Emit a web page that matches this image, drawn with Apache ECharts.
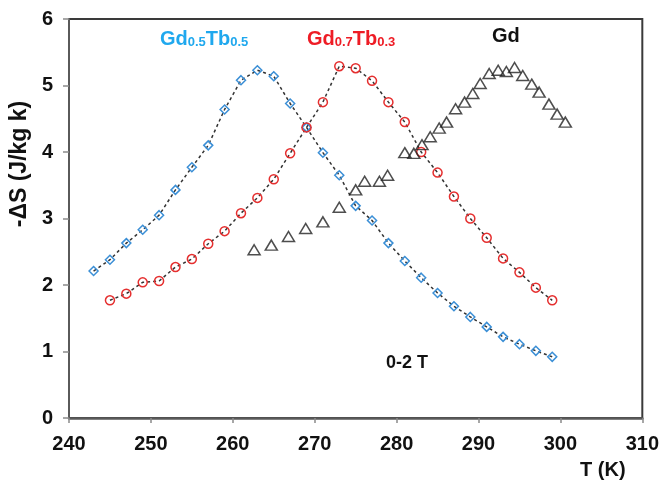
<!DOCTYPE html>
<html>
<head>
<meta charset="utf-8">
<script src="https://cdn.jsdelivr.net/npm/echarts@6/dist/echarts.min.js"></script>
<style>html,body{margin:0;padding:0;background:#fff}#c{width:662px;height:481px}</style>
</head>
<body>
<div id="c"></div>
<script>
// Gd0.5Tb0.5
const tGdTb55 = [243,245,247,249,251,253,255,257,259,261,263,265,267,269,271,273,275,277,279,281,283,285,287,289,291,293,295,297,299];
const sGdTb55 = [2.21,2.38,2.63,2.83,3.05,3.43,3.77,4.10,4.64,5.08,5.23,5.14,4.73,4.37,3.99,3.65,3.19,2.97,2.63,2.36,2.11,1.88,1.68,1.52,1.37,1.22,1.11,1.01,0.92];
// Gd0.7Tb0.3
const tGdTb73 = [245,247,249,251,253,255,257,259,261,263,265,267,269,271,273,275,277,279,281,283,285,287,289,291,293,295,297,299];
const sGdTb73 = [1.77,1.87,2.04,2.06,2.27,2.39,2.62,2.81,3.08,3.31,3.59,3.98,4.37,4.75,5.29,5.26,5.07,4.75,4.45,4.00,3.69,3.33,3.00,2.71,2.40,2.19,1.96,1.77];
// Gd
const tGd = [262.6,264.7,266.8,268.9,271.0,273.0,275.0,276.1,277.9,278.9,281.0,282.1,283.1,284.1,285.2,286.1,287.2,288.3,289.3,290.2,291.3,292.4,293.4,294.4,295.4,296.5,297.4,298.6,299.6,300.6];
const sGd = [2.53,2.60,2.73,2.85,2.95,3.17,3.43,3.56,3.56,3.65,3.99,3.98,4.11,4.23,4.36,4.45,4.65,4.75,4.88,5.03,5.18,5.23,5.21,5.27,5.15,5.02,4.90,4.72,4.57,4.45];

const xTicks = [240,250,260,270,280,290,300,310];
const yTicks = [0,1,2,3,4,5,6];

const zip = (a, b) => a.map((v, i) => [v, b[i]]);

const chart = echarts.init(document.getElementById('c'));
const FONT = 'Liberation Sans, Arial, sans-serif';
chart.setOption({
  animation: false,
  backgroundColor: '#fff',
  grid: { left: 69, right: 19, top: 19, bottom: 63, show: true, borderColor: '#3a3a3a', borderWidth: 2, backgroundColor: 'transparent' },
  xAxis: {
    type: 'value', min: xTicks[0], max: xTicks[xTicks.length-1], interval: 10,
    axisLine: { show: true, lineStyle: { color: '#5a5a5a', width: 2.5 } },
    axisTick: { show: true, length: 5, lineStyle: { color: '#8a8a8a', width: 1.5 } },
    axisLabel: { margin: 16, color: '#111', fontFamily: FONT, fontWeight: 'bold', fontSize: 20 },
    splitLine: { show: false }
  },
  yAxis: {
    type: 'value', min: yTicks[0], max: yTicks[yTicks.length-1], interval: 1,
    axisLine: { show: true, lineStyle: { color: '#5a5a5a', width: 2 } },
    axisTick: { show: true, length: 6, lineStyle: { color: '#8a8a8a', width: 1.5 } },
    axisLabel: { margin: 16, color: '#111', fontFamily: FONT, fontWeight: 'bold', fontSize: 20 },
    splitLine: { show: false }
  },
  graphic: [
    { type: 'text', x: 20, y: 164, rotation: Math.PI / 2, style: {
      text: '-ΔS (J/kg k)', fill: '#111', font: 'bold 23px ' + FONT, textAlign: 'center', textVerticalAlign: 'middle' } },
    { type: 'text', left: 160, top: 27, style: {
      text: '{a|Gd}{b|0.5}{a|Tb}{b|0.5}',
      rich: {
        a: { fill: '#1fa8ee', fontFamily: FONT, fontWeight: 'bold', fontSize: 20, lineHeight: 22, verticalAlign: 'bottom' },
        b: { fill: '#1fa8ee', fontFamily: FONT, fontWeight: 'bold', fontSize: 13, lineHeight: 22, verticalAlign: 'bottom', padding: [9,0,0,0] }
      } } },
    { type: 'text', left: 307, top: 27, style: {
      text: '{a|Gd}{b|0.7}{a|Tb}{b|0.3}',
      rich: {
        a: { fill: '#ee1c25', fontFamily: FONT, fontWeight: 'bold', fontSize: 20, lineHeight: 22, verticalAlign: 'bottom' },
        b: { fill: '#ee1c25', fontFamily: FONT, fontWeight: 'bold', fontSize: 13, lineHeight: 22, verticalAlign: 'bottom', padding: [9,0,0,0] }
      } } },
    { type: 'text', left: 492, top: 26, style: { text: 'Gd', fill: '#111', font: 'bold 20px ' + FONT } },
    { type: 'text', left: 386, top: 354, style: { text: '0-2 T', fill: '#111', font: 'bold 18px ' + FONT } },
    { type: 'text', left: 580, top: 460, style: { text: 'T (K)', fill: '#111', font: 'bold 20px ' + FONT } }
  ],
  series: [
    {
      type: 'line', name: 'Gd0.5Tb0.5', data: zip(tGdTb55, sGdTb55), z: 3,
      symbol: 'diamond', symbolSize: 9,
      lineStyle: { color: '#333', width: 1.5, type: [3, 3] },
      itemStyle: { color: 'rgba(255,255,255,0)', borderColor: '#3b8fd6', borderWidth: 1.5 }
    },
    {
      type: 'line', name: 'Gd0.7Tb0.3', data: zip(tGdTb73, sGdTb73), z: 3,
      symbol: 'circle', symbolSize: 9,
      lineStyle: { color: '#333', width: 1.5, type: [3, 3] },
      itemStyle: { color: 'rgba(255,255,255,0)', borderColor: '#e52f2f', borderWidth: 1.5 }
    },
    {
      type: 'scatter', name: 'Gd', data: zip(tGd, sGd), z: 4,
      symbol: 'triangle', symbolSize: [12, 10],
      itemStyle: { color: 'rgba(255,255,255,0)', borderColor: '#222', borderWidth: 1.5 }
    }
  ]
});
</script>
</body>
</html>
